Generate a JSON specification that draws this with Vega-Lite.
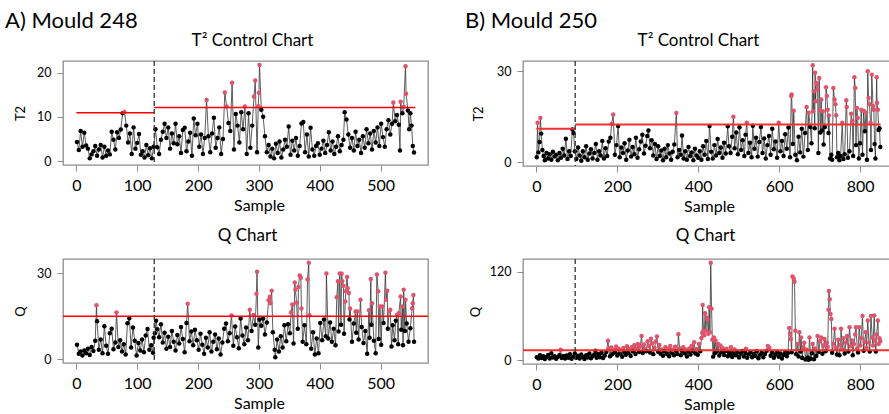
{
"$schema": "https://vega.github.io/schema/vega-lite/v6.json",
"padding": {"left": 5, "top": 9, "right": 0, "bottom": 0},
"spacing": 35,
"config": {
 "font": "Lato",
 "view": {"stroke": "#8c8c8c", "strokeWidth": 1.3},
 "axis": {"grid": false, "domain": false, "tickColor": "#8c8c8c", "tickSize": 6, "labelColor": "black", "titleColor": "black", "labelFont": "Lato", "titleFont": "Lato", "titleFontWeight": "normal"},
 "axisX": {"labelFontSize": 16, "titleFontSize": 16, "labelPadding": 6, "labelAngle": 0, "labelFlush": false},
 "axisY": {"labelFontSize": 12.5, "titleFontSize": 13, "labelPadding": 6, "labelAngle": 0, "labelFlush": false, "labelSeparation": -40},
 "title": {"font": "Lato", "fontSize": 17, "fontWeight": "normal", "anchor": "middle", "frame": "group", "color": "black", "baseline": "alphabetic"}
},
"datasets": {
"a_t2": [{"x":1,"y":4.3},{"x":4,"y":2.5},{"x":7,"y":6.8},{"x":10,"y":3.2},{"x":13,"y":6.4},{"x":16,"y":3.5},{"x":19,"y":2.8},{"x":22,"y":0.6},{"x":25,"y":1.5},{"x":28,"y":2.2},{"x":31,"y":3.4},{"x":34,"y":1.2},{"x":37,"y":2.6},{"x":40,"y":3.6},{"x":43,"y":0.8},{"x":46,"y":3.2},{"x":49,"y":1.2},{"x":52,"y":2.4},{"x":55,"y":1.5},{"x":58,"y":6.6},{"x":61,"y":4.8},{"x":64,"y":2.6},{"x":67,"y":6.5},{"x":70,"y":5.2},{"x":73,"y":7.1},{"x":76,"y":10.8},{"x":79,"y":11.1},{"x":82,"y":8.0},{"x":85,"y":4.2},{"x":88,"y":6.2},{"x":91,"y":1.6},{"x":94,"y":7.6},{"x":97,"y":2.8},{"x":100,"y":4.1},{"x":103,"y":6.1},{"x":106,"y":1.4},{"x":109,"y":2.2},{"x":112,"y":0.8},{"x":115,"y":3.6},{"x":118,"y":1.3},{"x":121,"y":2.9},{"x":124,"y":0.6},{"x":127,"y":3.2},
{"x":130,"y":7.2},{"x":133,"y":3.1},{"x":136,"y":1.6},{"x":139,"y":4.8},{"x":142,"y":6.6},{"x":145,"y":8.4},{"x":148,"y":5.2},{"x":151,"y":7.6},{"x":154,"y":2.8},{"x":157,"y":6.2},{"x":160,"y":4.0},{"x":163,"y":8.4},{"x":166,"y":3.8},{"x":169,"y":5.6},{"x":172,"y":1.8},{"x":175,"y":7.0},{"x":178,"y":7.5},{"x":181,"y":2.2},{"x":184,"y":4.4},{"x":187,"y":6.4},{"x":190,"y":1.2},{"x":193,"y":9.6},{"x":196,"y":5.8},{"x":199,"y":8.4},{"x":202,"y":3.2},{"x":205,"y":6.0},{"x":208,"y":1.6},{"x":211,"y":5.2},{"x":214,"y":13.8},{"x":217,"y":5.6},{"x":220,"y":2.0},{"x":223,"y":6.2},{"x":226,"y":9.8},{"x":229,"y":3.0},{"x":232,"y":5.2},{"x":235,"y":7.6},{"x":238,"y":1.6},{"x":241,"y":5.0},{"x":244,"y":15.5},{"x":247,"y":12.3},{"x":250,"y":8.6},{"x":253,"y":6.8},{"x":256,"y":17.7},{"x":259,"y":2.6},{"x":262,"y":10.6},{"x":265,"y":8.0},{"x":268,"y":4.2},{"x":271,"y":11.0},{"x":274,"y":7.2},{"x":277,"y":12.3},{"x":280,"y":1.6},{"x":283,"y":10.8},{"x":286,"y":3.0},{"x":289,"y":8.0},{"x":292,"y":14.6},{"x":294,"y":18.2},{"x":297,"y":2.0},{"x":299,"y":12.4},{"x":300,"y":15.4},{"x":301,"y":21.7},{"x":304,"y":11.6},{"x":307,"y":10.0},{"x":310,"y":5.6},{"x":313,"y":2.0},{"x":316,"y":3.6},{"x":319,"y":1.0},{"x":322,"y":2.8},{"x":325,"y":0.6},{"x":328,"y":3.9},{"x":331,"y":1.8},{"x":334,"y":4.4},{"x":337,"y":0.8},{"x":340,"y":2.6},{"x":343,"y":4.8},{"x":346,"y":3.2},{"x":349,"y":7.8},{"x":352,"y":1.4},{"x":355,"y":4.6},{"x":358,"y":2.4},{"x":361,"y":5.2},{"x":364,"y":1.2},{"x":367,"y":3.4},{"x":370,"y":8.5},{"x":373,"y":8.8},{"x":376,"y":2.0},{"x":379,"y":6.0},{"x":382,"y":1.0},{"x":385,"y":7.5},{"x":388,"y":2.6},{"x":391,"y":1.2},{"x":394,"y":3.4},{"x":397,"y":4.0},{"x":400,"y":1.4},{"x":403,"y":2.8},{"x":406,"y":4.6},{"x":409,"y":1.8},{"x":412,"y":3.6},{"x":415,"y":6.5},{"x":418,"y":2.4},{"x":421,"y":4.4},{"x":424,"y":1.6},{"x":427,"y":3.2},{"x":430,"y":5.6},{"x":433,"y":2.2},{"x":436,"y":3.6},{"x":439,"y":4.8},{"x":441,"y":11.0},{"x":444,"y":9.4},{"x":447,"y":6.0},{"x":450,"y":3.0},{"x":453,"y":5.2},{"x":456,"y":2.4},{"x":459,"y":6.6},{"x":462,"y":3.4},{"x":465,"y":4.8},{"x":468,"y":1.8},{"x":471,"y":5.6},{"x":474,"y":3.0},{"x":477,"y":7.2},{"x":480,"y":4.0},{"x":483,"y":6.2},{"x":486,"y":2.6},{"x":489,"y":6.8},{"x":492,"y":4.2},{"x":495,"y":7.6},{"x":498,"y":3.4},{"x":501,"y":8.4},{"x":504,"y":5.4},{"x":507,"y":3.2},{"x":510,"y":7.2},{"x":513,"y":9.2},{"x":516,"y":6.0},{"x":519,"y":8.4},{"x":521,"y":13.2},{"x":524,"y":9.0},{"x":527,"y":10.4},{"x":530,"y":8.2},{"x":532,"y":2.4},{"x":533,"y":13.4},{"x":536,"y":10.8},{"x":538,"y":12.2},{"x":541,"y":21.4},{"x":542,"y":15.2},{"x":545,"y":11.4},{"x":547,"y":7.2},{"x":549,"y":10.8},{"x":551,"y":8.0},{"x":553,"y":3.4},{"x":555,"y":1.9}],
"a_q": [{"x":1,"y":5.0},{"x":4,"y":1.8},{"x":7,"y":2.6},{"x":10,"y":1.2},{"x":13,"y":3.0},{"x":16,"y":2.0},{"x":19,"y":3.6},{"x":22,"y":1.4},{"x":25,"y":4.2},{"x":28,"y":2.8},{"x":31,"y":6.4},{"x":33,"y":18.8},{"x":34,"y":13.2},{"x":37,"y":3.2},{"x":40,"y":6.8},{"x":43,"y":2.0},{"x":46,"y":11.5},{"x":49,"y":4.6},{"x":52,"y":1.8},{"x":55,"y":9.0},{"x":58,"y":10.6},{"x":61,"y":3.4},{"x":64,"y":5.8},{"x":66,"y":16.3},{"x":69,"y":4.2},{"x":72,"y":6.6},{"x":75,"y":2.6},{"x":78,"y":5.2},{"x":81,"y":1.6},{"x":84,"y":12.5},{"x":87,"y":14.3},{"x":90,"y":4.0},{"x":93,"y":11.0},{"x":96,"y":6.4},{"x":99,"y":1.2},{"x":102,"y":5.6},{"x":105,"y":3.0},{"x":108,"y":6.8},{"x":111,"y":2.4},{"x":114,"y":8.2},{"x":117,"y":10.5},{"x":120,"y":3.2},{"x":123,"y":4.8},{"x":126,"y":2.2},{"x":127,"y":7.4},
{"x":129,"y":9.0},{"x":131,"y":13.4},{"x":133,"y":10.4},{"x":136,"y":7.6},{"x":139,"y":12.2},{"x":142,"y":5.8},{"x":145,"y":9.2},{"x":148,"y":3.6},{"x":151,"y":7.8},{"x":154,"y":4.2},{"x":157,"y":9.8},{"x":160,"y":6.0},{"x":163,"y":3.0},{"x":166,"y":8.4},{"x":169,"y":5.4},{"x":172,"y":11.2},{"x":175,"y":7.0},{"x":178,"y":2.4},{"x":181,"y":12.6},{"x":183,"y":19.3},{"x":186,"y":6.2},{"x":189,"y":9.6},{"x":192,"y":4.8},{"x":195,"y":10.2},{"x":198,"y":6.6},{"x":201,"y":3.2},{"x":204,"y":8.8},{"x":207,"y":5.0},{"x":210,"y":1.8},{"x":213,"y":7.4},{"x":216,"y":4.0},{"x":219,"y":9.4},{"x":222,"y":2.6},{"x":225,"y":6.0},{"x":228,"y":8.6},{"x":231,"y":3.4},{"x":234,"y":7.2},{"x":237,"y":1.6},{"x":240,"y":5.8},{"x":243,"y":10.6},{"x":246,"y":12.4},{"x":249,"y":6.2},{"x":252,"y":9.0},{"x":255,"y":15.2},{"x":258,"y":4.6},{"x":261,"y":11.4},{"x":264,"y":7.6},{"x":267,"y":3.8},{"x":270,"y":14.2},{"x":273,"y":8.2},{"x":276,"y":5.2},{"x":279,"y":11.0},{"x":282,"y":6.6},{"x":285,"y":17.2},{"x":288,"y":9.8},{"x":291,"y":15.4},{"x":294,"y":12.0},{"x":296,"y":22.8},{"x":297,"y":30.5},{"x":299,"y":4.0},{"x":301,"y":13.8},{"x":304,"y":11.6},{"x":307,"y":14.2},{"x":310,"y":8.6},{"x":313,"y":12.8},{"x":316,"y":20.6},{"x":318,"y":21.8},{"x":319,"y":19.5},{"x":321,"y":23.9},{"x":323,"y":9.4},{"x":326,"y":3.2},{"x":327,"y":0.6},{"x":330,"y":6.8},{"x":333,"y":2.6},{"x":336,"y":8.0},{"x":339,"y":4.0},{"x":342,"y":11.8},{"x":345,"y":6.2},{"x":348,"y":12.2},{"x":351,"y":9.0},{"x":353,"y":16.4},{"x":355,"y":19.1},{"x":357,"y":5.4},{"x":359,"y":26.8},{"x":360,"y":24.2},{"x":362,"y":19.7},{"x":364,"y":10.6},{"x":365,"y":25.2},{"x":367,"y":29.2},{"x":369,"y":28.4},{"x":370,"y":17.7},{"x":372,"y":6.0},{"x":375,"y":11.8},{"x":378,"y":5.2},{"x":380,"y":27.8},{"x":382,"y":33.7},{"x":383,"y":15.3},{"x":386,"y":3.6},{"x":389,"y":9.4},{"x":392,"y":1.6},{"x":395,"y":7.2},{"x":398,"y":2.0},{"x":401,"y":12.6},{"x":404,"y":6.6},{"x":407,"y":13.8},{"x":410,"y":8.0},{"x":411,"y":29.9},{"x":414,"y":7.2},{"x":417,"y":12.8},{"x":420,"y":6.0},{"x":423,"y":10.6},{"x":426,"y":4.8},{"x":428,"y":21.6},{"x":430,"y":27.2},{"x":431,"y":9.6},{"x":433,"y":29.9},{"x":435,"y":12.0},{"x":436,"y":29.8},{"x":437,"y":27.2},{"x":439,"y":25.6},{"x":440,"y":8.8},{"x":442,"y":20.1},{"x":443,"y":23.7},{"x":445,"y":28.7},{"x":446,"y":24.8},{"x":448,"y":23.1},{"x":449,"y":13.8},{"x":450,"y":17.7},{"x":453,"y":6.0},{"x":456,"y":12.4},{"x":459,"y":16.6},{"x":460,"y":9.2},{"x":462,"y":16.6},{"x":464,"y":6.8},{"x":467,"y":20.7},{"x":469,"y":11.2},{"x":472,"y":5.6},{"x":475,"y":9.8},{"x":478,"y":1.8},{"x":481,"y":17.1},{"x":482,"y":7.4},{"x":484,"y":28.0},{"x":485,"y":12.0},{"x":486,"y":19.5},{"x":489,"y":6.4},{"x":492,"y":2.0},{"x":494,"y":29.6},{"x":496,"y":23.7},{"x":497,"y":7.0},{"x":499,"y":18.4},{"x":501,"y":5.0},{"x":503,"y":18.4},{"x":505,"y":12.6},{"x":508,"y":30.2},{"x":509,"y":20.7},{"x":511,"y":23.9},{"x":512,"y":10.6},{"x":514,"y":16.6},{"x":516,"y":17.2},{"x":518,"y":4.4},{"x":520,"y":11.8},{"x":523,"y":6.6},{"x":525,"y":13.4},{"x":527,"y":15.4},{"x":529,"y":5.2},{"x":530,"y":16.0},{"x":533,"y":21.9},{"x":534,"y":10.2},{"x":536,"y":18.4},{"x":537,"y":4.8},{"x":538,"y":24.2},{"x":540,"y":9.8},{"x":541,"y":20.7},{"x":543,"y":12.4},{"x":546,"y":6.0},{"x":549,"y":10.8},{"x":552,"y":17.8},{"x":553,"y":19.5},{"x":554,"y":22.4},{"x":555,"y":6.0}],
"b_t2": [{"x":1,"y":1.6},{"x":3,"y":13.0},{"x":5,"y":3.2},{"x":8,"y":6.6},{"x":10,"y":14.6},{"x":12,"y":9.4},{"x":15,"y":4.0},{"x":18,"y":2.0},{"x":21,"y":0.6},{"x":25,"y":3.0},{"x":29,"y":1.2},{"x":33,"y":2.6},{"x":37,"y":0.8},{"x":41,"y":3.4},{"x":45,"y":1.8},{"x":49,"y":2.4},{"x":53,"y":0.6},{"x":57,"y":3.0},{"x":61,"y":1.4},{"x":65,"y":4.4},{"x":69,"y":2.2},{"x":73,"y":7.7},{"x":77,"y":1.0},{"x":81,"y":3.6},{"x":85,"y":2.0},{"x":89,"y":10.8},{"x":92,"y":9.6},{"x":95,"y":3.6},{"x":99,"y":1.0},{"x":103,"y":4.8},{"x":107,"y":2.2},{"x":111,"y":0.4},{"x":115,"y":3.6},{"x":119,"y":1.6},{"x":123,"y":5.2},{"x":127,"y":0.8},{"x":131,"y":2.8},{"x":135,"y":4.2},{"x":139,"y":1.2},{"x":143,"y":3.0},{"x":147,"y":6.0},{"x":151,"y":0.8},{"x":155,"y":3.6},{"x":159,"y":2.2},{"x":163,"y":7.0},{"x":167,"y":1.2},{"x":171,"y":4.6},{"x":175,"y":2.0},{"x":179,"y":6.8},{"x":183,"y":8.0},{"x":186,"y":12.6},{"x":190,"y":15.7},{"x":194,"y":2.4},{"x":198,"y":5.6},{"x":202,"y":11.9},{"x":206,"y":1.6},{"x":210,"y":4.8},{"x":214,"y":3.0},{"x":218,"y":6.2},{"x":222,"y":0.8},{"x":226,"y":3.8},{"x":230,"y":7.4},{"x":234,"y":1.8},{"x":238,"y":5.0},{"x":242,"y":2.6},{"x":246,"y":8.0},{"x":250,"y":1.4},{"x":254,"y":4.2},{"x":258,"y":6.8},{"x":262,"y":9.0},{"x":266,"y":2.8},{"x":270,"y":5.4},{"x":274,"y":8.6},{"x":277,"y":10.4},{"x":281,"y":4.6},{"x":285,"y":7.2},{"x":289,"y":2.2},{"x":293,"y":6.0},{"x":297,"y":1.0},{"x":301,"y":5.2},{"x":305,"y":2.0},{"x":309,"y":3.8},{"x":313,"y":0.6},{"x":317,"y":4.4},{"x":321,"y":1.6},{"x":325,"y":5.6},{"x":329,"y":2.8},{"x":333,"y":0.8},{"x":337,"y":3.4},{"x":341,"y":5.8},{"x":346,"y":16.2},{"x":349,"y":1.6},{"x":353,"y":4.0},{"x":357,"y":2.4},{"x":360,"y":8.8},{"x":364,"y":1.2},{"x":368,"y":3.6},{"x":372,"y":0.8},{"x":376,"y":5.0},{"x":380,"y":2.0},{"x":384,"y":3.2},{"x":388,"y":0.6},{"x":392,"y":4.4},{"x":396,"y":2.2},{"x":400,"y":1.4},{"x":404,"y":3.6},{"x":408,"y":0.8},{"x":412,"y":5.2},{"x":416,"y":2.4},{"x":420,"y":7.0},{"x":424,"y":1.0},{"x":428,"y":11.9},{"x":432,"y":3.4},{"x":436,"y":1.2},{"x":440,"y":5.6},{"x":444,"y":2.2},{"x":448,"y":7.6},{"x":452,"y":3.0},{"x":456,"y":4.8},{"x":460,"y":1.4},{"x":464,"y":6.4},{"x":468,"y":2.8},{"x":473,"y":11.8},{"x":476,"y":5.2},{"x":480,"y":3.0},{"x":484,"y":8.4},{"x":487,"y":15.0},{"x":490,"y":4.6},{"x":494,"y":9.8},{"x":498,"y":2.6},{"x":502,"y":11.5},{"x":506,"y":4.0},{"x":510,"y":7.2},{"x":514,"y":2.0},{"x":517,"y":9.0},{"x":520,"y":13.0},{"x":524,"y":3.0},{"x":528,"y":6.4},{"x":532,"y":1.6},{"x":535,"y":12.0},{"x":539,"y":4.4},{"x":543,"y":8.0},{"x":547,"y":1.8},{"x":551,"y":6.6},{"x":555,"y":11.6},{"x":559,"y":3.0},{"x":563,"y":7.8},{"x":567,"y":1.2},{"x":571,"y":5.6},{"x":575,"y":8.6},{"x":579,"y":2.4},{"x":583,"y":11.0},{"x":587,"y":4.2},{"x":591,"y":6.8},{"x":595,"y":1.4},{"x":599,"y":13.0},{"x":603,"y":3.6},{"x":607,"y":7.0},{"x":611,"y":2.0},{"x":615,"y":9.2},{"x":619,"y":4.4},{"x":623,"y":11.4},{"x":627,"y":1.6},{"x":630,"y":21.8},{"x":631,"y":22.3},{"x":634,"y":6.0},{"x":636,"y":17.0},{"x":640,"y":2.4},{"x":644,"y":0.6},{"x":648,"y":8.4},{"x":652,"y":3.2},{"x":656,"y":11.0},{"x":660,"y":1.8},{"x":664,"y":9.6},{"x":668,"y":18.2},{"x":671,"y":4.0},{"x":673,"y":16.3},{"x":677,"y":11.6},{"x":680,"y":6.2},{"x":683,"y":32.0},{"x":684,"y":16.8},{"x":686,"y":23.4},{"x":688,"y":11.2},{"x":689,"y":29.5},{"x":690,"y":20.1},{"x":692,"y":26.2},{"x":694,"y":25.6},{"x":695,"y":24.0},{"x":697,"y":3.0},{"x":699,"y":27.8},{"x":701,"y":17.3},{"x":702,"y":9.8},{"x":704,"y":20.7},{"x":706,"y":10.4},{"x":708,"y":16.8},{"x":710,"y":5.8},{"x":713,"y":11.6},{"x":716,"y":24.7},{"x":718,"y":21.8},{"x":720,"y":17.3},{"x":722,"y":9.6},{"x":723,"y":15.4},{"x":726,"y":1.2},{"x":729,"y":2.4},{"x":731,"y":0.8},{"x":734,"y":24.5},{"x":737,"y":20.7},{"x":739,"y":19.1},{"x":741,"y":15.5},{"x":743,"y":1.6},{"x":746,"y":3.0},{"x":749,"y":0.6},{"x":752,"y":2.0},{"x":756,"y":13.0},{"x":759,"y":1.0},{"x":762,"y":2.6},{"x":766,"y":20.4},{"x":767,"y":18.2},{"x":770,"y":1.4},{"x":774,"y":3.6},{"x":778,"y":16.0},{"x":781,"y":13.5},{"x":783,"y":2.0},{"x":786,"y":28.0},{"x":788,"y":24.5},{"x":790,"y":5.6},{"x":792,"y":17.9},{"x":794,"y":14.6},{"x":797,"y":1.2},{"x":800,"y":6.2},{"x":803,"y":17.3},{"x":806,"y":2.4},{"x":809,"y":17.0},{"x":812,"y":10.2},{"x":815,"y":16.3},{"x":817,"y":0.8},{"x":819,"y":30.0},{"x":821,"y":21.2},{"x":823,"y":19.1},{"x":826,"y":13.0},{"x":827,"y":4.0},{"x":829,"y":28.9},{"x":832,"y":18.5},{"x":834,"y":17.3},{"x":836,"y":6.0},{"x":838,"y":1.2},{"x":841,"y":28.0},{"x":842,"y":19.6},{"x":844,"y":17.3},{"x":846,"y":10.6},{"x":848,"y":11.2},{"x":850,"y":5.0}],
"b_q": [{"x":1,"y":4.2},{"x":5,"y":2.6},{"x":9,"y":6.8},{"x":13,"y":3.0},{"x":17,"y":5.4},{"x":21,"y":1.8},{"x":25,"y":4.6},{"x":29,"y":7.2},{"x":33,"y":2.4},{"x":37,"y":9.6},{"x":41,"y":3.8},{"x":45,"y":5.6},{"x":49,"y":2.0},{"x":53,"y":4.4},{"x":57,"y":7.0},{"x":60,"y":14.5},{"x":63,"y":3.2},{"x":67,"y":5.8},{"x":71,"y":2.6},{"x":75,"y":6.4},{"x":79,"y":3.6},{"x":83,"y":8.2},{"x":87,"y":2.2},{"x":91,"y":5.0},{"x":95,"y":9.4},{"x":99,"y":3.4},{"x":103,"y":6.2},{"x":107,"y":2.4},{"x":111,"y":8.0},{"x":115,"y":4.6},{"x":119,"y":1.8},{"x":123,"y":6.8},{"x":127,"y":3.8},{"x":131,"y":9.2},{"x":135,"y":2.8},{"x":139,"y":5.6},{"x":143,"y":7.8},{"x":146,"y":13.0},{"x":149,"y":3.6},{"x":153,"y":8.6},{"x":157,"y":4.2},{"x":161,"y":10.4},{"x":165,"y":3.0},{"x":169,"y":6.6},{"x":173,"y":11.2},{"x":177,"y":26.5},{"x":179,"y":15.8},{"x":182,"y":5.6},{"x":185,"y":17.4},{"x":188,"y":8.2},{"x":191,"y":14.4},{"x":194,"y":10.8},{"x":197,"y":18.6},{"x":200,"y":6.4},{"x":203,"y":15.6},{"x":206,"y":9.2},{"x":209,"y":13.8},{"x":212,"y":4.8},{"x":215,"y":16.8},{"x":218,"y":11.0},{"x":221,"y":7.4},{"x":224,"y":19.2},{"x":227,"y":10.0},{"x":230,"y":15.0},{"x":233,"y":5.8},{"x":236,"y":17.6},{"x":239,"y":12.0},{"x":242,"y":20.4},{"x":245,"y":8.6},{"x":248,"y":16.2},{"x":251,"y":22.0},{"x":254,"y":11.2},{"x":257,"y":18.8},{"x":260,"y":33.0},{"x":263,"y":9.8},{"x":266,"y":21.6},{"x":269,"y":15.2},{"x":272,"y":12.4},{"x":275,"y":26.0},{"x":278,"y":19.4},{"x":281,"y":10.6},{"x":283,"y":29.2},{"x":286,"y":22.8},{"x":289,"y":8.4},{"x":292,"y":17.0},{"x":295,"y":25.4},{"x":298,"y":32.3},{"x":301,"y":11.6},{"x":304,"y":20.8},{"x":307,"y":9.0},{"x":310,"y":14.8},{"x":313,"y":6.2},{"x":316,"y":12.6},{"x":319,"y":17.6},{"x":322,"y":8.8},{"x":325,"y":15.6},{"x":328,"y":5.4},{"x":331,"y":19.6},{"x":334,"y":10.2},{"x":337,"y":14.2},{"x":340,"y":7.0},{"x":343,"y":18.4},{"x":346,"y":12.0},{"x":349,"y":8.4},{"x":351,"y":35.5},{"x":354,"y":16.2},{"x":357,"y":6.8},{"x":360,"y":13.0},{"x":363,"y":17.8},{"x":366,"y":9.6},{"x":369,"y":14.6},{"x":372,"y":5.2},{"x":375,"y":11.8},{"x":378,"y":16.0},{"x":381,"y":8.0},{"x":384,"y":19.8},{"x":387,"y":12.6},{"x":390,"y":24.5},{"x":393,"y":9.4},{"x":396,"y":15.4},{"x":399,"y":7.6},{"x":402,"y":22.0},{"x":405,"y":12.2},{"x":408,"y":30.4},{"x":410,"y":37.0},{"x":411,"y":75.0},{"x":413,"y":40.0},{"x":415,"y":34.0},{"x":417,"y":64.0},{"x":419,"y":40.0},{"x":421,"y":58.0},{"x":423,"y":55.0},{"x":425,"y":36.0},{"x":427,"y":72.0},{"x":429,"y":38.0},{"x":431,"y":132.5},{"x":433,"y":70.0},{"x":435,"y":28.0},{"x":437,"y":5.0},{"x":439,"y":31.0},{"x":441,"y":9.6},{"x":443,"y":27.0},{"x":446,"y":12.0},{"x":449,"y":22.0},{"x":452,"y":6.4},{"x":455,"y":20.0},{"x":458,"y":10.8},{"x":461,"y":16.4},{"x":464,"y":7.2},{"x":467,"y":12.8},{"x":470,"y":15.8},{"x":473,"y":5.6},{"x":476,"y":11.0},{"x":479,"y":8.2},{"x":481,"y":17.6},{"x":484,"y":4.6},{"x":487,"y":10.2},{"x":490,"y":14.6},{"x":493,"y":6.8},{"x":497,"y":11.6},{"x":501,"y":3.8},{"x":505,"y":8.8},{"x":509,"y":12.6},{"x":513,"y":5.2},{"x":517,"y":9.8},{"x":518,"y":15.6},{"x":521,"y":3.4},{"x":525,"y":7.8},{"x":529,"y":11.4},{"x":533,"y":4.2},{"x":537,"y":9.0},{"x":541,"y":6.0},{"x":545,"y":12.2},{"x":549,"y":2.8},{"x":553,"y":7.4},{"x":557,"y":10.6},{"x":561,"y":4.0},{"x":565,"y":8.6},{"x":569,"y":12.8},{"x":572,"y":19.4},{"x":576,"y":17.2},{"x":579,"y":6.2},{"x":583,"y":10.8},{"x":587,"y":3.6},{"x":591,"y":8.0},{"x":595,"y":11.6},{"x":599,"y":4.8},{"x":603,"y":9.4},{"x":607,"y":2.6},{"x":611,"y":7.2},{"x":615,"y":11.0},{"x":619,"y":5.4},{"x":622,"y":9.8},{"x":625,"y":44.0},{"x":627,"y":36.0},{"x":629,"y":29.0},{"x":631,"y":11.0},{"x":633,"y":113.7},{"x":636,"y":111.0},{"x":638,"y":106.5},{"x":640,"y":40.0},{"x":642,"y":8.4},{"x":645,"y":22.0},{"x":648,"y":5.2},{"x":650,"y":38.0},{"x":653,"y":12.0},{"x":654,"y":31.0},{"x":657,"y":3.0},{"x":660,"y":18.0},{"x":662,"y":24.0},{"x":665,"y":1.0},{"x":668,"y":14.8},{"x":671,"y":4.0},{"x":673,"y":0.8},{"x":675,"y":31.0},{"x":678,"y":2.2},{"x":681,"y":9.6},{"x":683,"y":22.0},{"x":686,"y":1.4},{"x":689,"y":16.0},{"x":692,"y":6.0},{"x":695,"y":33.0},{"x":698,"y":11.2},{"x":701,"y":26.0},{"x":704,"y":31.0},{"x":707,"y":9.0},{"x":710,"y":20.0},{"x":712,"y":29.0},{"x":715,"y":12.4},{"x":718,"y":24.0},{"x":720,"y":18.0},{"x":722,"y":68.5},{"x":723,"y":94.0},{"x":725,"y":83.0},{"x":727,"y":63.0},{"x":729,"y":56.0},{"x":731,"y":10.4},{"x":734,"y":22.0},{"x":737,"y":43.0},{"x":740,"y":17.0},{"x":743,"y":8.0},{"x":746,"y":28.0},{"x":749,"y":7.0},{"x":752,"y":21.0},{"x":753,"y":43.0},{"x":756,"y":14.6},{"x":759,"y":30.0},{"x":762,"y":9.2},{"x":765,"y":24.0},{"x":768,"y":33.0},{"x":771,"y":12.0},{"x":774,"y":45.0},{"x":777,"y":19.0},{"x":780,"y":27.0},{"x":782,"y":7.0},{"x":785,"y":22.0},{"x":788,"y":35.0},{"x":790,"y":45.0},{"x":793,"y":16.0},{"x":795,"y":10.6},{"x":798,"y":45.0},{"x":801,"y":20.0},{"x":803,"y":30.0},{"x":806,"y":60.0},{"x":809,"y":13.0},{"x":811,"y":25.0},{"x":814,"y":38.0},{"x":816,"y":17.0},{"x":819,"y":54.0},{"x":822,"y":24.0},{"x":824,"y":11.8},{"x":827,"y":60.0},{"x":830,"y":31.0},{"x":832,"y":20.0},{"x":835,"y":61.0},{"x":837,"y":27.0},{"x":839,"y":12.0},{"x":841,"y":35.0},{"x":844,"y":54.0},{"x":846,"y":22.0},{"x":848,"y":30.0},{"x":850,"y":26.0}]
},
"hconcat": [
{
 "title": {"text": "A) Mould 248", "fontSize": 22, "anchor": "start", "frame": "group", "dx": -58, "offset": -1},
 "bounds": "flush",
 "spacing": 94,
 "vconcat": [
 {
  "width": 365, "height": 104,
  "title": {"text": "T² Control Chart", "dx": 7, "offset": 10},
  "layer": [
   {"data": {"name": "a_t2"}, "mark": {"type": "line", "color": "#333", "strokeWidth": 0.8},
    "encoding": {"x": {"field": "x", "type": "quantitative", "scale": {"domain": [-22, 578], "nice": false, "zero": false}, "axis": {"title": "Sample", "values": [0,100,200,300,400,500], "titleX": 196, "titleY": 45, "titleBaseline": "alphabetic"}},
                 "y": {"field": "y", "type": "quantitative", "scale": {"domain": [-0.9, 22.6], "nice": false, "zero": false}, "axis": {"title": "T2", "values": [0,5,10,15,20], "labelExpr": "datum.value % 10 === 0 ? datum.label : ''", "labelSeparation": -40, "titleX": -39, "titleBaseline": "alphabetic"}}}},
   {"data": {"name": "a_t2"}, "mark": {"type": "point", "filled": true, "size": 20, "opacity": 1},
    "encoding": {"x": {"field": "x", "type": "quantitative", "scale": {"domain": [-22, 578], "nice": false, "zero": false}},
                 "y": {"field": "y", "type": "quantitative", "scale": {"domain": [-0.9, 22.6], "nice": false, "zero": false}},
                 "color": {"condition": {"test": "datum.y > (datum.x < 128 ? 10.9 : 12.1)", "value": "#DF536B"}, "value": "black"}}},
   {"data": {"values": [{"x": 0, "xe": 128, "y": 10.9}, {"x": 128, "xe": 557, "y": 12.1}]}, "mark": {"type": "rule", "color": "red", "strokeWidth": 1.5},
    "encoding": {"x": {"field": "x", "type": "quantitative"}, "x2": {"field": "xe"}, "y": {"field": "y", "type": "quantitative"}}},
   {"data": {"values": [{"x": 128}]}, "mark": {"type": "rule", "color": "#333", "strokeWidth": 1.3, "strokeDash": [5, 3]},
    "encoding": {"x": {"field": "x", "type": "quantitative"}}}
  ]
 },
 {
  "width": 365, "height": 104,
  "title": {"text": "Q Chart", "dx": 2, "offset": 13},
  "layer": [
   {"data": {"name": "a_q"}, "mark": {"type": "line", "color": "#333", "strokeWidth": 0.8},
    "encoding": {"x": {"field": "x", "type": "quantitative", "scale": {"domain": [-22, 578], "nice": false, "zero": false}, "axis": {"title": "Sample", "values": [0,100,200,300,400,500], "titleX": 196, "titleY": 45, "titleBaseline": "alphabetic"}},
                 "y": {"field": "y", "type": "quantitative", "scale": {"domain": [-1.4, 35], "nice": false, "zero": false}, "axis": {"title": "Q", "values": [0,5,10,15,20,25,30], "labelExpr": "datum.value % 10 === 0 ? datum.label : ''", "labelSeparation": -40, "titleX": -39, "titleBaseline": "alphabetic"}}}},
   {"data": {"name": "a_q"}, "mark": {"type": "point", "filled": true, "size": 20, "opacity": 1},
    "encoding": {"x": {"field": "x", "type": "quantitative", "scale": {"domain": [-22, 578], "nice": false, "zero": false}},
                 "y": {"field": "y", "type": "quantitative", "scale": {"domain": [-1.4, 35], "nice": false, "zero": false}},
                 "color": {"condition": {"test": "datum.y > 15", "value": "#DF536B"}, "value": "black"}}},
   {"data": {"values": [{"y": 15.0}]}, "mark": {"type": "rule", "color": "red", "strokeWidth": 1.5},
    "encoding": {"y": {"field": "y", "type": "quantitative"}}},
   {"data": {"values": [{"x": 128}]}, "mark": {"type": "rule", "color": "#333", "strokeWidth": 1.3, "strokeDash": [5, 3]},
    "encoding": {"x": {"field": "x", "type": "quantitative"}}}
  ]
 }
 ]
},
{
 "title": {"text": "B) Mould 250", "fontSize": 22, "anchor": "start", "frame": "group", "dx": -58, "offset": -1},
 "bounds": "flush",
 "spacing": 93,
 "vconcat": [
 {
  "width": 367, "height": 105,
  "title": {"text": "T² Control Chart", "dx": -8, "offset": 10},
  "layer": [
   {"data": {"name": "b_t2"}, "mark": {"type": "line", "color": "#333", "strokeWidth": 0.8},
    "encoding": {"x": {"field": "x", "type": "quantitative", "scale": {"domain": [-33, 874], "nice": false, "zero": false}, "axis": {"title": "Sample", "values": [0,200,400,600,800], "titleX": 186, "titleY": 45, "titleBaseline": "alphabetic"}},
                 "y": {"field": "y", "type": "quantitative", "scale": {"domain": [-1.3, 33.4], "nice": false, "zero": false}, "axis": {"title": "T2", "values": [0,5,10,15,20,25,30], "labelExpr": "datum.value % 10 === 0 ? datum.label : ''", "labelSeparation": -40, "titleX": -41, "titleBaseline": "alphabetic"}}}},
   {"data": {"name": "b_t2"}, "mark": {"type": "point", "filled": true, "size": 20, "opacity": 1},
    "encoding": {"x": {"field": "x", "type": "quantitative", "scale": {"domain": [-33, 874], "nice": false, "zero": false}},
                 "y": {"field": "y", "type": "quantitative", "scale": {"domain": [-1.3, 33.4], "nice": false, "zero": false}},
                 "color": {"condition": {"test": "datum.y > (datum.x < 96 ? 11.0 : 12.4)", "value": "#DF536B"}, "value": "black"}}},
   {"data": {"values": [{"x": 0, "xe": 96, "y": 11.0}, {"x": 96, "xe": 851, "y": 12.4}]}, "mark": {"type": "rule", "color": "#f23030", "strokeWidth": 2},
    "encoding": {"x": {"field": "x", "type": "quantitative"}, "x2": {"field": "xe"}, "y": {"field": "y", "type": "quantitative"}}},
   {"data": {"values": [{"x": 96}]}, "mark": {"type": "rule", "color": "#333", "strokeWidth": 1.3, "strokeDash": [5, 3]},
    "encoding": {"x": {"field": "x", "type": "quantitative"}}}
  ]
 },
 {
  "width": 367, "height": 105,
  "title": {"text": "Q Chart", "dx": -1, "offset": 13},
  "layer": [
   {"data": {"name": "b_q"}, "mark": {"type": "line", "color": "#333", "strokeWidth": 0.8},
    "encoding": {"x": {"field": "x", "type": "quantitative", "scale": {"domain": [-33, 874], "nice": false, "zero": false}, "axis": {"title": "Sample", "values": [0,200,400,600,800], "titleX": 186, "titleY": 45, "titleBaseline": "alphabetic"}},
                 "y": {"field": "y", "type": "quantitative", "scale": {"domain": [-5, 137.5], "nice": false, "zero": false}, "axis": {"title": "Q", "values": [0,20,40,60,80,100,120], "labelExpr": "datum.value % 40 === 0 ? datum.label : ''", "labelSeparation": -40, "titleX": -44, "titleBaseline": "alphabetic"}}}},
   {"data": {"name": "b_q"}, "mark": {"type": "point", "filled": true, "size": 20, "opacity": 1},
    "encoding": {"x": {"field": "x", "type": "quantitative", "scale": {"domain": [-33, 874], "nice": false, "zero": false}},
                 "y": {"field": "y", "type": "quantitative", "scale": {"domain": [-5, 137.5], "nice": false, "zero": false}},
                 "color": {"condition": {"test": "datum.y > 13.5", "value": "#DF536B"}, "value": "black"}}},
   {"data": {"values": [{"y": 13.5}]}, "mark": {"type": "rule", "color": "#f23030", "strokeWidth": 2},
    "encoding": {"y": {"field": "y", "type": "quantitative"}}},
   {"data": {"values": [{"x": 96}]}, "mark": {"type": "rule", "color": "#333", "strokeWidth": 1.3, "strokeDash": [5, 3]},
    "encoding": {"x": {"field": "x", "type": "quantitative"}}}
  ]
 }
 ]
}
]
}
